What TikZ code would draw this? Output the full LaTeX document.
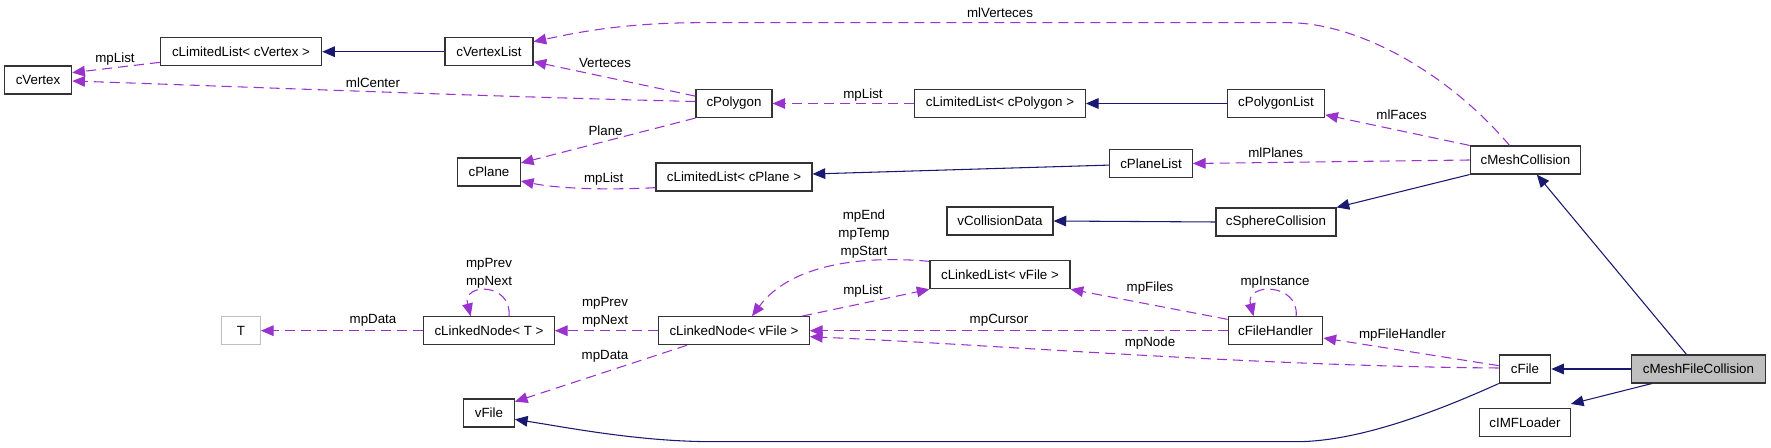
\documentclass[tikz,border=0pt]{standalone}
\usepackage{fontspec}
\setmainfont{Liberation Sans}
\usepackage{xcolor}
\usetikzlibrary{arrows.meta,calc}
\definecolor{inhcol}{HTML}{191970}
\definecolor{usecol}{HTML}{9A32CD}
\definecolor{curfill}{HTML}{BFBFBF}

\begin{document}
\begin{tikzpicture}[
  x=0.75pt,y=-0.75pt,font=\fontsize{10}{13.5}\selectfont,
  cls/.style={rectangle,draw=black!80,line width=0.85pt,minimum height=21pt,inner xsep=2pt,inner ysep=0pt},
  ext/.style={cls,draw=curfill},
  cur/.style={cls,fill=curfill},
  inh/.style={-{Triangle[length=9.5pt,width=8pt]},draw=inhcol,line width=0.8pt},
  use/.style={-{Triangle[length=9.5pt,width=8pt]},draw=usecol,line width=0.8pt,dash pattern=on 7.5pt off 4.5pt},
  lbl/.style={inner sep=0pt,align=center,text=black}
]
\useasboundingbox (0,0) rectangle (1771,448);
\node[cls,minimum width=50.5pt] (cv) at (38,80) {cVertex};
\node[cls,minimum width=121pt] (llv) at (241,51.7) {cLimitedList< cVertex >};
\node[cls,minimum width=66pt] (cvl) at (489,51.7) {cVertexList};
\node[cls,minimum width=57pt] (cpo) at (734,103.5) {cPolygon};
\node[cls,minimum width=128pt] (llpo) at (1000,103.5) {cLimitedList< cPolygon >};
\node[cls,minimum width=73pt] (cpol) at (1276,103.5) {cPolygonList};
\node[cls,minimum width=47pt] (cpl) at (489,172) {cPlane};
\node[cls,minimum width=117pt] (llpl) at (734,177) {cLimitedList< cPlane >};
\node[cls,minimum width=62pt] (cpll) at (1151,163.5) {cPlaneList};
\node[cls,minimum width=83pt] (cmc) at (1525.5,160) {cMeshCollision};
\node[cls,minimum width=79.5pt] (vcd) at (1000,221) {vCollisionData};
\node[cls,minimum width=90pt] (csc) at (1276,222) {cSphereCollision};
\node[cls,minimum width=105pt] (llvf) at (1000,274.7) {cLinkedList< vFile >};
\node[ext,minimum width=29pt] (t) at (241,330.7) {T};
\node[cls,minimum width=98pt] (lnt) at (489,330.7) {cLinkedNode< T >};
\node[cls,minimum width=113pt] (lnvf) at (734,330.7) {cLinkedNode< vFile >};
\node[cls,minimum width=71pt] (cfh) at (1275.5,330.7) {cFileHandler};
\node[cls,minimum width=38.6pt] (cf) at (1525,369) {cFile};
\node[cur,minimum width=100pt] (cmfc) at (1698.5,369) {cMeshFileCollision};
\node[cls,minimum width=38pt] (vf) at (489,413) {vFile};
\node[cls,minimum width=68pt] (imf) at (1525,422.5) {cIMFLoader};

\draw[inh] (cvl.west) -- (llv.east);
\draw[inh] (cpol.west) -- (llpo.east);
\draw[inh] ([yshift=-1.2pt]cpll.west) -- ([yshift=2.25pt]llpl.east);
\draw[inh] (csc.west) -- (vcd.east);
\draw[inh] (cmc.south west) -- (csc.north east);
\draw[inh] ([xshift=-9pt]cmfc.north) -- ([xshift=8.5pt]cmc.south);
\draw[inh] (cmfc.west) -- (cf.east);
\draw[inh] ([xshift=-35pt]cmfc.south) -- ([yshift=3pt]imf.north east);
\draw[inh] (cf.south west) .. controls (1440,410) and (1360,441.7) .. (1296,441.7) -- (714,441.7) .. controls (640,441.7) and (570,428) .. ([yshift=-4.75pt]vf.east);

\draw[use] ([yshift=-8pt]llv.west) -- ([yshift=5.5pt]cv.east) node[lbl] at (115,59) {mpList};
\draw[use] ([yshift=1.5pt]cpo.west) .. controls (500,97) and (250,87) .. ([yshift=-0.75pt]cv.east) node[lbl] at (373,83) {mlCenter};
\draw[use] ([yshift=5.5pt]cpo.west) -- ([yshift=-7.5pt]cvl.east) node[lbl] at (605,62.7) {Verteces};
\draw[use] ([xshift=-12pt]cmc.north) .. controls (1450,75) and (1360,22.7) .. (1288,22.7) -- (700,22.7) .. controls (620,22.7) and (570,34) .. ([yshift=7.5pt]cvl.east) node[lbl] at (1000,12.7) {mlVerteces};
\draw[use] (cpo.south west) -- ([yshift=6.75pt]cpl.east) node[lbl] at (605.6,130.7) {Plane};
\draw[use] ([yshift=-8pt]llpl.west) .. controls (610,190) and (560,189) .. ([yshift=-6.75pt]cpl.east) node[lbl] at (603.7,179) {mpList};
\draw[use] (llpo.west) -- (cpo.east) node[lbl] at (863,95) {mpList};
\draw[use] (cmc.north west) -- ([yshift=-8.5pt]cpol.east) node[lbl] at (1401.6,114.3) {mlFaces};
\draw[use] (cmc.west) -- (cpll.east) node[lbl] at (1275.7,152.7) {mlPlanes};
\draw[use] (lnt.west) -- (t.east) node[lbl] at (373,320.7) {mpData};
\draw[use] ([xshift=15pt]lnt.north) .. controls +(3,-33.7) and +(-8.7,-33.7) .. ([xshift=-13.75pt]lnt.north) node[lbl] at (489,273.3) {mpPrev\\mpNext};
\draw[use] (lnvf.west) -- (lnt.east) node[lbl] at (605,312) {mpPrev\\mpNext};
\draw[use] ([xshift=-35.25pt]lnvf.south) -- ([yshift=8.5pt]vf.east) node[lbl] at (605,356.7) {mpData};
\draw[use] ([yshift=10pt]llvf.west) .. controls (860,255) and (790,265) .. ([xshift=13.5pt]lnvf.north) node[lbl] at (864,234) {mpEnd\\mpTemp\\mpStart};
\draw[use] ([xshift=51pt]lnvf.north) -- (llvf.south west) node[lbl] at (863,291) {mpList};
\draw[use] (cfh.west) -- (lnvf.east) node[lbl] at (999,320.7) {mpCursor};
\draw[use] ([yshift=0.75pt]cf.west) .. controls (1250,366) and (1000,345) .. ([yshift=-4.5pt]lnvf.east) node[lbl] at (1150,343.3) {mpNode};
\draw[use] ([yshift=2.5pt]cf.west) -- ([yshift=-5.5pt]cfh.east) node[lbl] at (1402.4,335) {mpFileHandler};
\draw[use] ([yshift=8.5pt]cfh.west) -- (llvf.south east) node[lbl] at (1150,288) {mpFiles};
\draw[use] ([xshift=15.5pt]cfh.north) .. controls +(3,-33.7) and +(-8.7,-33.7) .. ([xshift=-16.5pt]cfh.north) node[lbl] at (1275,282.7) {mpInstance};
\end{tikzpicture}
\end{document}
